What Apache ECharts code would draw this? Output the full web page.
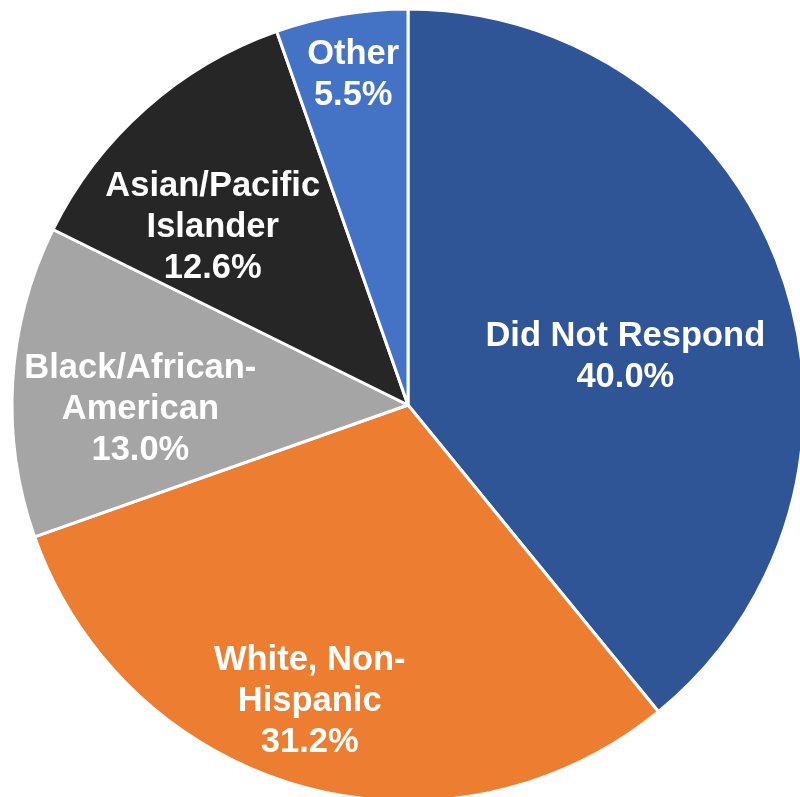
<!DOCTYPE html>
<html><head><meta charset="utf-8">
<script src="https://cdn.jsdelivr.net/npm/echarts@6/dist/echarts.min.js"></script>
<style>html,body{margin:0;padding:0;background:#fff}#c{width:800px;height:797px}</style>
</head><body><div id="c"></div>
<script>
const categories = ["Did Not Respond", "White, Non-\nHispanic", "Black/African-\nAmerican", "Asian/Pacific\nIslander", "Other"];
const values = [40.0, 31.2, 13.0, 12.6, 5.5];
const colors = ["#2F5597", "#ED7D31", "#A5A5A5", "#262626", "#4472C4"];
const labelOffsets = [[28, 19], [-44, 103], [-67, 17], [-62, -27], [-21, -132]];

const chart = echarts.init(document.getElementById('c'));
chart.setOption({
  animation: false,
  series: [{
    type: 'pie',
    center: [408, 405],
    radius: 396,
    startAngle: 90,
    clockwise: true,
    avoidLabelOverlap: false,
    itemStyle: { borderColor: '#fff', borderWidth: 3 },
    label: {
      show: true,
      position: 'inside',
      color: '#fff',
      fontFamily: 'Liberation Sans, Arial, sans-serif',
      fontWeight: 'bold',
      fontSize: 34.5,
      lineHeight: 41,
      align: 'center',
      formatter: p => p.name + '\n' + p.value.toFixed(1) + '%'
    },
    labelLine: { show: false },
    emphasis: { disabled: true },
    data: categories.map((n, i) => ({
      name: n, value: values[i],
      itemStyle: { color: colors[i] },
      label: { offset: labelOffsets[i] }
    }))
  }]
});
</script></body></html>
